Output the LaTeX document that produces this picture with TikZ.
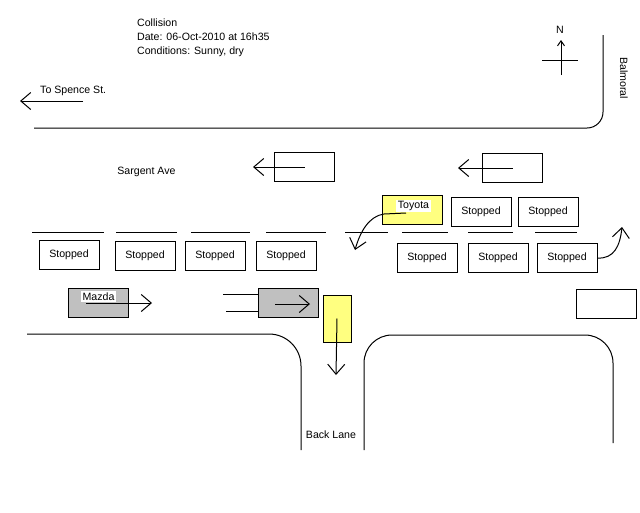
\documentclass[tikz,border=0pt]{standalone}
\usepackage{fontspec}
\setmainfont{Liberation Sans}
\usepackage{xcolor}
\usepackage{tikz}
\usetikzlibrary{arrows.meta}
\definecolor{carYellow}{RGB}{255,255,128}
\definecolor{carGrey}{RGB}{192,192,192}
\tikzset{
    carbox/.style={rectangle, minimum width=60pt, minimum height=29pt, inner sep=0pt,
        draw=black, line width=1pt, text centered, font=\fontsize{10.6}{12}\selectfont},
    carlabel/.style={rectangle, fill=white, inner sep=1.5pt, font=\fontsize{10.6}{12}\selectfont},
    movearrow/.style={-{Straight Barb[length=10pt, width=17pt]}, line width=1pt},
    curbline/.style={line width=1pt},
    laneline/.style={line width=1pt},
    roadtext/.style={font=\fontsize{10.6}{12}\selectfont, inner sep=0pt},
}

\begin{document}
\begin{tikzpicture}[x=1pt, y=-1pt]
    \useasboundingbox (0,0) rectangle (640,512);

    % header and street names
    \node[roadtext, anchor=north west, align=left, font=\fontsize{10.6}{14}\selectfont]
        (header) at (137,18.5) {Collision\\Date: 06-Oct-2010 at 16h35\\Conditions: Sunny, dry};
    \node[roadtext, anchor=west] (spence) at (40,91) {To Spence St.};
    \node[roadtext] (sargent) at (146.5,171.5) {Sargent Ave};
    \node[roadtext, rotate=-90] (balmoral) at (624,78) {Balmoral};
    \node[roadtext] (backlane) at (331,435) {Back Lane};

    \coordinate (spenceFrom) at (83,101);
    \coordinate (spenceTo) at (20,101);
    \draw[movearrow] (spenceFrom) -- (spenceTo);

    % compass
    \node[roadtext] (north) at (560,30) {N};
    \coordinate (compassS) at (561,75);
    \coordinate (compassN) at (561,40);
    \coordinate (compassW) at (542,60);
    \coordinate (compassE) at (578,60);
    \draw[line width=1pt, -{Straight Barb[length=5pt, width=7pt]}] (compassS) -- (compassN);
    \draw[line width=1pt] (compassW) -- (compassE);

    % curbs
    \draw[curbline, rounded corners=16pt] (34,128) -- (603,128) -- (603,35);
    \draw[curbline, rounded corners=32pt] (27,334) -- (301,334) -- (301,450);
    \draw[curbline, rounded corners=28pt] (364,450) -- (364,335) -- (613,335) -- (613,443);

    % lane markings
    \draw[laneline] (32,232) -- (104,232);
    \draw[laneline] (116,232) -- (177,232);
    \draw[laneline] (191,232) -- (250,232);
    \draw[laneline] (266,232) -- (326,232);
    \draw[laneline] (345,232) -- (388,232);
    \draw[laneline] (402,232) -- (448,232);
    \draw[laneline] (468,232) -- (513,232);
    \draw[laneline] (535,232) -- (577,232);

    % westbound traffic
    \node[carbox] (westA) at (304.5,167) {};
    \node[carbox] (westB) at (512.5,168) {};
    \coordinate (westAto) at (253,167);
    \coordinate (westBto) at (458,168);
    \draw[movearrow] (westA.center) -- (westAto);
    \draw[movearrow] (westB.center) -- (westBto);

    \node[carbox, fill=carYellow] (toyota) at (412.5,210) {};
    \node[carbox] (stopA1) at (481,211.5) {Stopped};
    \node[carbox] (stopA2) at (548,211.5) {Stopped};

    \node[carbox] (stopL1) at (69,254.5) {Stopped};
    \node[carbox] (stopL2) at (145,255.5) {Stopped};
    \node[carbox] (stopL3) at (215,256) {Stopped};
    \node[carbox] (stopL4) at (286,256) {Stopped};
    \node[carbox] (stopR1) at (427,258) {Stopped};
    \node[carbox] (stopR2) at (498,258) {Stopped};
    \node[carbox] (stopR3) at (567,258) {Stopped};

    \coordinate (toyotaTurn) at (406,213);
    \coordinate (toyotaTo) at (355,250);
    \draw[movearrow] (toyotaTurn) -- (384,214) .. controls (369,216) and (360,232) .. (toyotaTo);
    \node[carlabel] (toyotaName) at (413.5,206) {Toyota};

    \coordinate (stopR3to) at (622,227);
    \draw[movearrow] (stopR3.east) .. controls (614,259) and (620,246) .. (stopR3to);

    % eastbound traffic
    \node[carbox, fill=carGrey] (mazda) at (98,302.5) {};
    \node[carlabel] (mazdaName) at (98.5,296.5) {Mazda};
    \coordinate (mazdaFrom) at (86,303);
    \coordinate (mazdaTo) at (152,303);
    \draw[movearrow] (mazdaFrom) -- (mazdaTo);

    \node[carbox, fill=carGrey] (grey) at (288,303) {};
    \coordinate (greyFrom) at (275,304);
    \coordinate (greyTo) at (310,304);
    \draw[movearrow] (greyFrom) -- (greyTo);
    \coordinate (trailA) at (223,294);
    \coordinate (trailB) at (226,311);
    \draw[line width=1pt] (trailA) -- (trailA -| grey.west);
    \draw[line width=1pt] (trailB) -- (trailB -| grey.west);

    \node[carbox, fill=carYellow, minimum width=28pt, minimum height=47pt] (yellow) at (337,318.5) {};
    \coordinate (yellowTo) at (336,375);
    \draw[movearrow] (yellow.center) -- (yellowTo);

    \node[carbox] (parked) at (606,303.5) {};
\end{tikzpicture}
\end{document}
